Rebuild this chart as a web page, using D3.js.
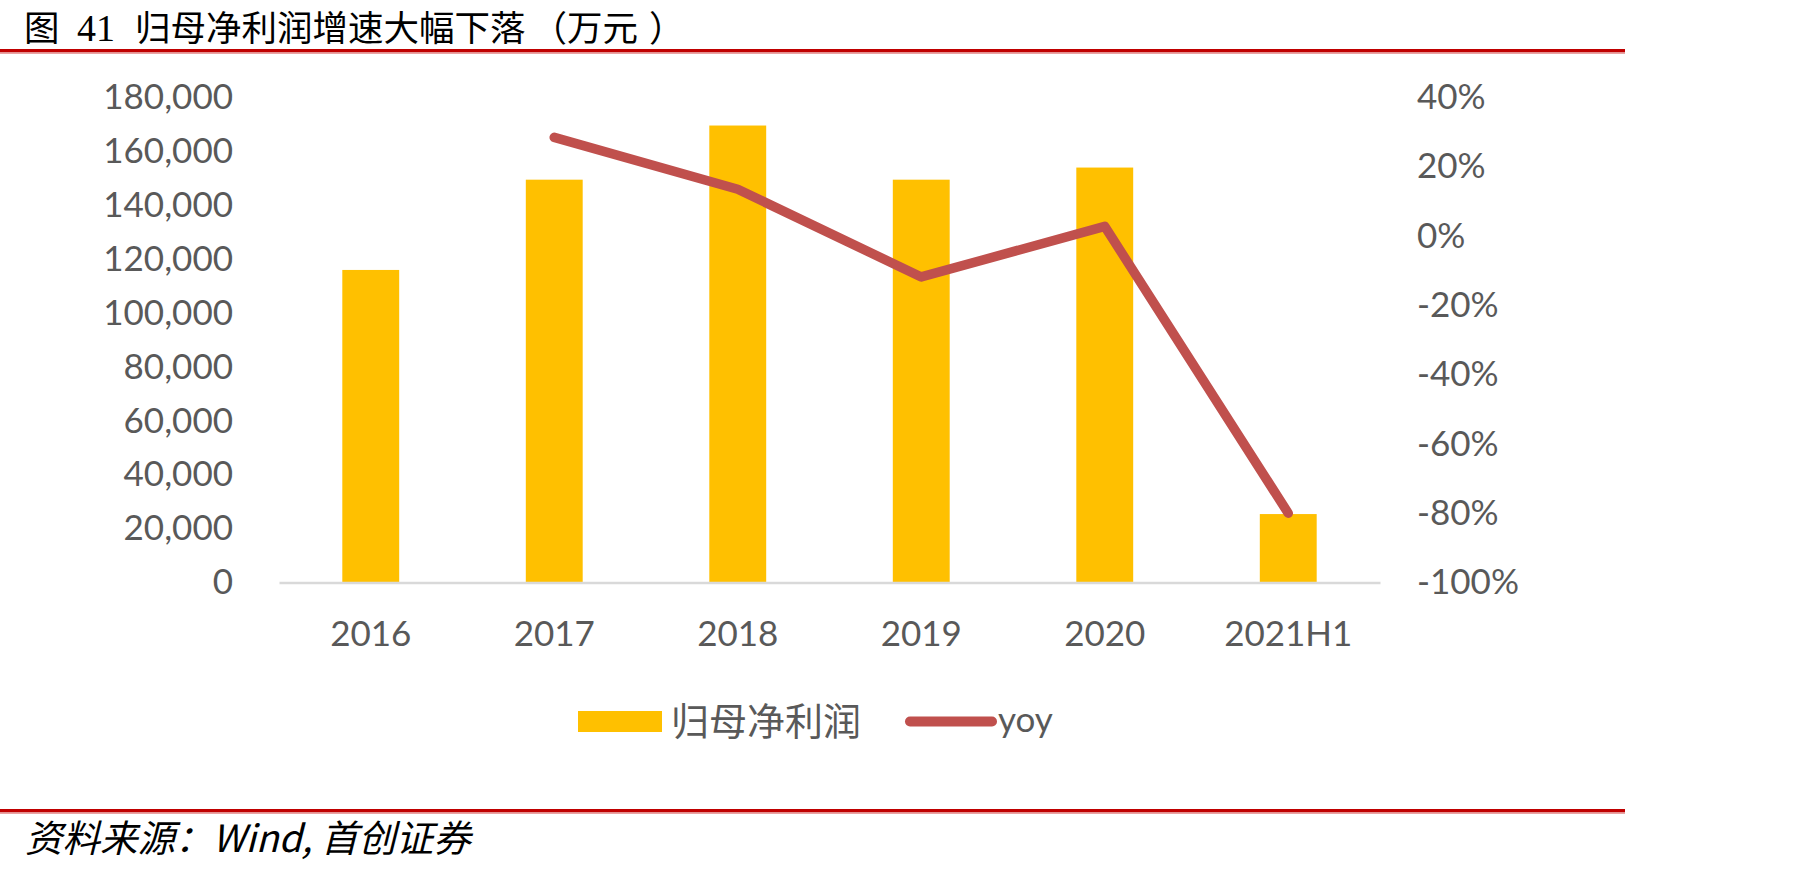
<!DOCTYPE html>
<html>
<head>
<meta charset="utf-8">
<script src="https://cdn.jsdelivr.net/npm/d3@7"></script>
<style>
  html, body { margin: 0; padding: 0; background: #ffffff; }
  svg { display: block; }
</style>
</head>
<body>
<svg id="chart" width="1807" height="871"></svg>
<script>
// ---- data ----
const categories = ["2016", "2017", "2018", "2019", "2020", "2021H1"];
const profitValues = [116000, 149500, 169600, 149500, 154000, 25400]; // 万元
const yoyValues = [null, 0.285, 0.135, -0.118, 0.028, -0.80];
const leftTicks = [0, 20000, 40000, 60000, 80000, 100000, 120000, 140000, 160000, 180000];
const rightTicks = [-1, -0.8, -0.6, -0.4, -0.2, 0, 0.2, 0.4];
const seriesNames = ["归母净利润", "yoy"];
const titleParts = ["图", "41", "归母净利润增速大幅下落", "（", "万元", "）"];
const sourceText = "资料来源：Wind, 首创证券";

// ---- style ----
const barColor = "#FFC000";
const lineColor = "#C0504D";
const textColor = "#595959";
const latin = "Lato, 'Open Sans', sans-serif";
const cjk = "'Noto Sans CJK SC', sans-serif";

const svg = d3.select("#chart");
const plot = { left: 279, right: 1380, top: 97.5, bottom: 582.5 };

const locale = d3.formatLocale({ decimal: ".", thousands: ",", grouping: [3], currency: ["", ""], minus: "-" });

const x = d3.scaleBand().domain(categories).range([plot.left, plot.right]).padding(0);
const yL = d3.scaleLinear().domain([0, 180000]).range([plot.bottom, plot.top]);
const yR = d3.scaleLinear().domain([-1, 0.4]).range([plot.bottom, plot.top]);

// ---- title & rules ----
const title = svg.append("text").attr("y", 41).attr("fill", "#000").style("font-size", "35.5px");
title.append("tspan").attr("x", 24).style("font-family", cjk).text(titleParts[0]);
title.append("tspan").attr("x", 77).style("font-family", "'Liberation Serif', serif").style("font-size", "38px").text(titleParts[1]);
title.append("tspan").attr("x", 135).style("font-family", cjk).text(titleParts[2]);
title.append("tspan").attr("dx", 6).style("font-family", cjk).text(titleParts[3]);
title.append("tspan").attr("dx", 0).style("font-family", cjk).text(titleParts[4]);
title.append("tspan").attr("dx", 11).style("font-family", cjk).text(titleParts[5]);

svg.append("rect").attr("x", 0).attr("y", 49).attr("width", 1625).attr("height", 3.5).attr("fill", "#C00000");
svg.append("rect").attr("x", 0).attr("y", 52.5).attr("width", 1625).attr("height", 1.5).attr("fill", "#E9A3A3");

svg.append("rect").attr("x", 0).attr("y", 809).attr("width", 1625).attr("height", 3.5).attr("fill", "#C00000");
svg.append("rect").attr("x", 0).attr("y", 812.5).attr("width", 1625).attr("height", 1.5).attr("fill", "#E9A3A3");

svg.append("text")
  .attr("x", 25).attr("y", 852)
  .attr("fill", "#000")
  .style("font-family", cjk)
  .style("font-style", "italic")
  .style("font-size", "37.5px")
  .text(sourceText);

// ---- bars ----
const barW = x.bandwidth() * 0.31;
svg.append("g").selectAll("rect")
  .data(categories.map((c, i) => ({ c, v: profitValues[i] })))
  .join("rect")
  .attr("x", d => x(d.c) + x.bandwidth() / 2 - barW / 2)
  .attr("y", d => yL(d.v))
  .attr("width", barW)
  .attr("height", d => yL(0) - yL(d.v))
  .attr("fill", barColor);

// ---- axes ----
const gL = svg.append("g").attr("transform", `translate(${plot.left},0)`)
  .call(d3.axisLeft(yL).tickValues(leftTicks).tickSize(0).tickPadding(46).tickFormat(locale.format(",")));
gL.select(".domain").remove();
gL.selectAll("text").style("font-family", latin).style("font-size", "35px").attr("fill", textColor);

const gR = svg.append("g").attr("transform", `translate(${plot.right},0)`)
  .call(d3.axisRight(yR).tickValues(rightTicks).tickSize(0).tickPadding(37).tickFormat(locale.format(".0%")));
gR.select(".domain").remove();
gR.selectAll("text").style("font-family", latin).style("font-size", "35px").attr("fill", textColor);

const gB = svg.append("g").attr("transform", `translate(0,${plot.bottom})`)
  .call(d3.axisBottom(x).tickSize(0).tickPadding(0));
gB.select(".domain").attr("stroke", "#D9D9D9").attr("stroke-width", 2.5);
gB.selectAll("text").attr("y", 51.5).attr("dy", "0.35em")
  .style("font-family", latin).style("font-size", "35px").attr("fill", textColor);

// ---- line ----
const lineData = categories.map((c, i) => ({ c, v: yoyValues[i] })).filter(d => d.v !== null);
svg.append("path")
  .datum(lineData)
  .attr("fill", "none")
  .attr("stroke", lineColor)
  .attr("stroke-width", 9.5)
  .attr("stroke-linecap", "round")
  .attr("stroke-linejoin", "round")
  .attr("d", d3.line().x(d => x(d.c) + x.bandwidth() / 2).y(d => yR(d.v)));

// ---- legend ----
const lg = svg.append("g");
lg.append("rect").attr("x", 578).attr("y", 711).attr("width", 84).attr("height", 21).attr("fill", barColor);
lg.append("text").attr("x", 671).attr("y", 735)
  .style("font-family", cjk).style("font-size", "38px").attr("fill", textColor).text(seriesNames[0]);
lg.append("line").attr("x1", 910).attr("x2", 992).attr("y1", 721.5).attr("y2", 721.5)
  .attr("stroke", lineColor).attr("stroke-width", 10).attr("stroke-linecap", "round");
lg.append("text").attr("x", 998).attr("y", 732)
  .style("font-family", latin).style("font-size", "35px").attr("fill", textColor).text(seriesNames[1]);
</script>
</body>
</html>
